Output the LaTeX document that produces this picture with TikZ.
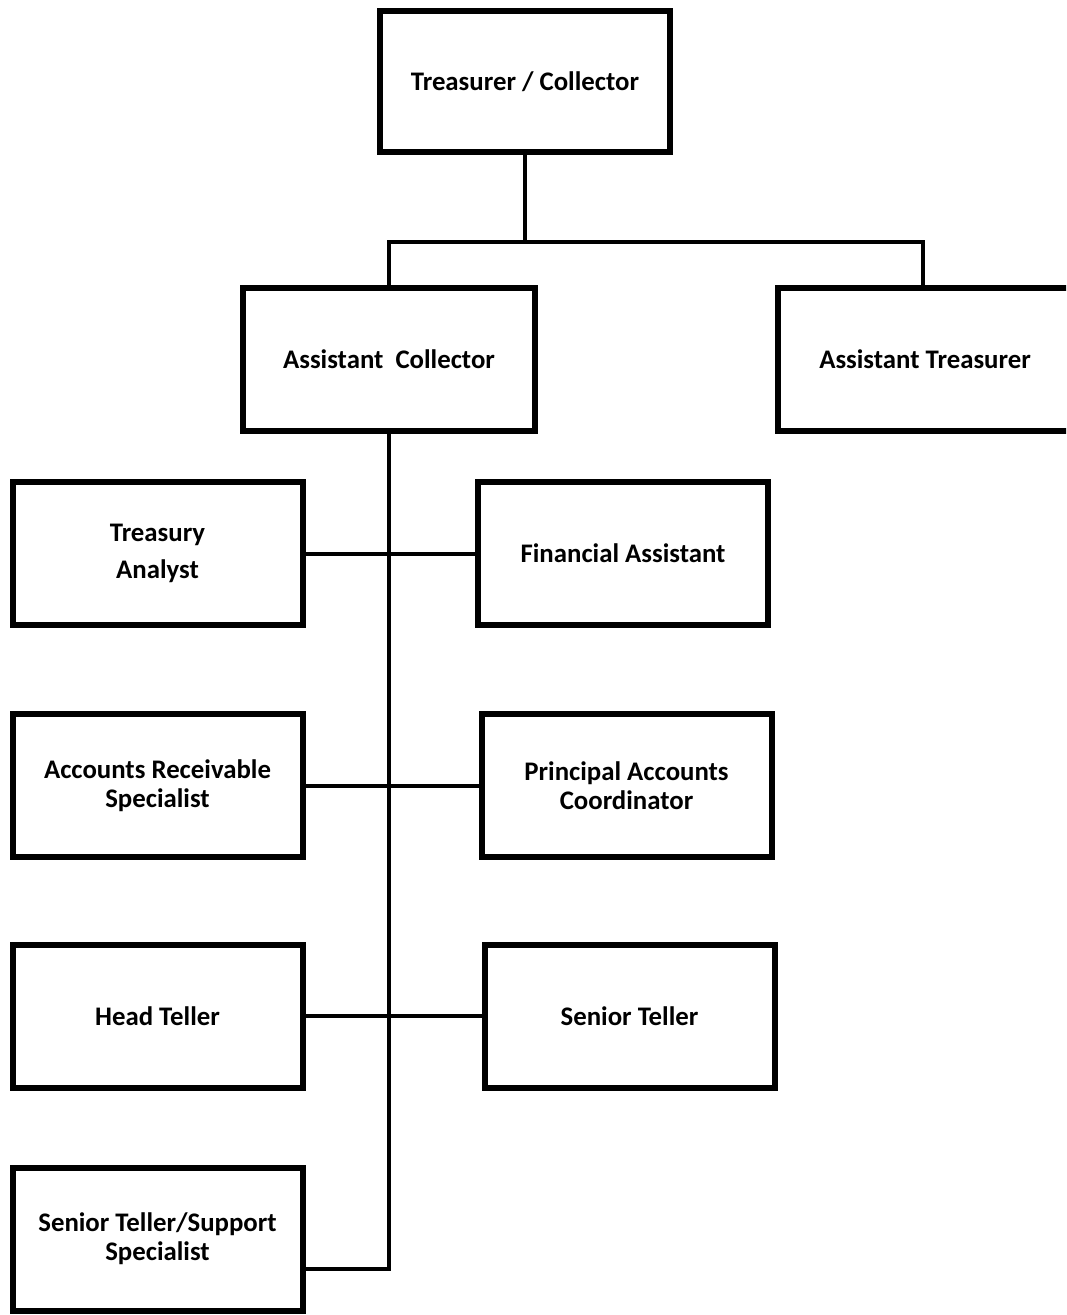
\documentclass[tikz,border=0pt]{standalone}
\usepackage{fontspec}
\setmainfont{Carlito}
\usepackage{tikz}
\usetikzlibrary{positioning}

\tikzset{
  post/.style={rectangle, draw, line width=3pt, align=center,
    font=\fontsize{13.4}{14.6}\selectfont\bfseries,
    minimum width=145pt, minimum height=71.5pt, inner sep=0pt},
  link/.style={line width=2pt}
}

\begin{document}
\begin{tikzpicture}[x=0.5pt, y=-0.5pt]
  \useasboundingbox (0,0) rectangle (1066,1315);
  \clip (0,0) rectangle (1066,1315);

  % top level
  \node [post, minimum height=70.5pt] (treas) at (525,81.5) {Treasurer / Collector};

  % assistants
  \node [post, minimum width=146pt] (asscoll) at (389,359.5) {Assistant~~Collector};
  \node [post, minimum width=147pt] (asstreas) at (925,359.5) {Assistant Treasurer};

  % staff under the assistant collector
  \node [post] (analyst) at (157.5,553.5) {Treasury\\[4pt] Analyst};
  \node [post] (finass) at (623,553.5) {Financial Assistant};

  \node [post] (arspec) at (157.5,785.5) {Accounts Receivable\\ Specialist};
  \node [post] (princ) at (626.5,785.5) {Principal Accounts\\ Coordinator};

  \node [post] (head) at (157.5,1016) {Head Teller};
  \node [post] (senior) at (629.5,1016) {Senior Teller};

  \node [post] (support) at (157.5,1239) {Senior Teller/Support\\ Specialist};

  % edges
  \coordinate (bus) at (525,242);
  \coordinate (supjoin) at (303,1269);

  \draw [link] (treas.south) -- (bus);
  \draw [link] (asscoll.north) |- (bus) -| (asstreas.north -| 923,0);
  \draw [link] (asscoll.south) |- (supjoin);

  \draw [link] (analyst) -- (finass);
  \draw [link] (arspec) -- (princ);
  \draw [link] (head) -- (senior);
\end{tikzpicture}
\end{document}
